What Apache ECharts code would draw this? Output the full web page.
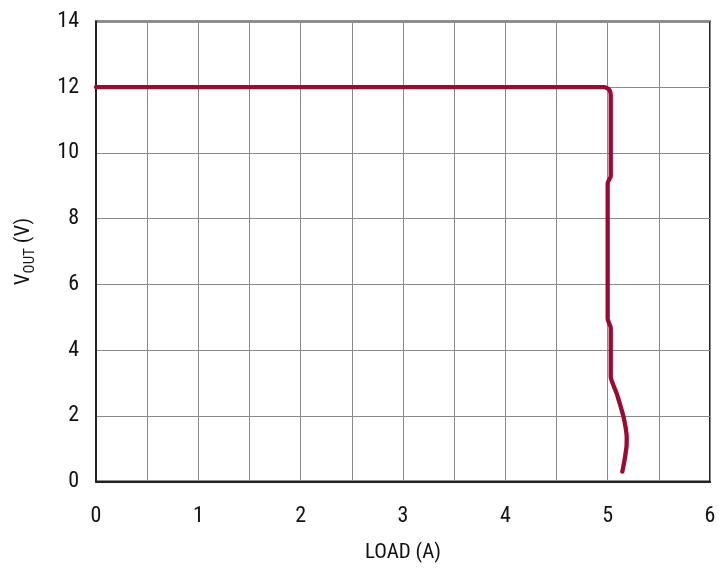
<!DOCTYPE html>
<html>
<head>
<meta charset="utf-8">
<script src="https://cdn.jsdelivr.net/npm/echarts@6/dist/echarts.min.js"></script>
<style>
html,body{margin:0;padding:0;background:#fff;}
#chart{width:719px;height:570px;}
</style>
</head>
<body>
<div id="chart"></div>
<script>
// Load (A) values along the curve
const loadA = [0, 4.96, 4.995, 5.02, 5.03, 5.03, 5.0, 5.0, 5.03, 5.03, 5.06, 5.088, 5.125, 5.153, 5.175, 5.186, 5.185, 5.176, 5.162, 5.143];
// Vout (V) values along the curve
const voutV = [12, 12, 11.97, 11.9, 11.75, 9.3, 9.08, 4.95, 4.67, 3.19, 2.9, 2.68, 2.3, 1.99, 1.65, 1.36, 1.1, 0.87, 0.6, 0.3];
const xTicks = [0, 1, 2, 3, 4, 5, 6];
const yTicks = [0, 2, 4, 6, 8, 10, 12, 14];

const FONT = "'Liberation Sans Narrow', 'Roboto Condensed', Roboto, sans-serif";
const chart = echarts.init(document.getElementById('chart'), null, {renderer: 'canvas'});
const data = loadA.map((x, i) => [x, voutV[i]]);

chart.setOption({
  animation: false,
  backgroundColor: '#ffffff',
  grid: {left: 96, top: 21.5, right: 9, bottom: 88.5, show: true, borderColor: '#222', borderWidth: 2, backgroundColor: 'transparent'},
  xAxis: {
    type: 'value', min: 0, max: 6, interval: 0.5,
    name: 'LOAD (A)', nameLocation: 'middle', nameGap: 61,
    nameTextStyle: {fontFamily: FONT, fontSize: 21, color: '#111'},
    axisLine: {show: true, lineStyle: {color: '#222', width: 2}},
    axisTick: {show: false},
    axisLabel: {
      margin: 24, fontFamily: FONT, fontSize: 22, color: '#111',
      formatter: v => xTicks.indexOf(v) >= 0 ? String(v) : ''
    },
    splitLine: {show: true, lineStyle: {color: '#8a8a8a', width: 1}}
  },
  yAxis: {
    type: 'value', min: 0, max: 14, interval: 2,
    name: '{v|V}{s|OUT}{v| (V)}', nameLocation: 'middle', nameGap: 62,
    nameTextStyle: {
      fontFamily: FONT, fontSize: 21, color: '#111',
      rich: {
        v: {fontFamily: FONT, fontSize: 21, color: '#111', lineHeight: 26, verticalAlign: 'bottom'},
        s: {fontFamily: FONT, fontSize: 15, color: '#111', lineHeight: 26, verticalAlign: 'bottom', padding: [0, 0, -4, 0]}
      }
    },
    axisLine: {show: true, lineStyle: {color: '#222', width: 2}},
    axisTick: {show: false},
    axisLabel: {
      margin: 17, fontFamily: FONT, fontSize: 22, color: '#111',
      formatter: v => yTicks.indexOf(v) >= 0 ? String(v) : ''
    },
    splitLine: {show: true, lineStyle: {color: '#8a8a8a', width: 1}}
  },
  series: [{
    type: 'line',
    data: data,
    showSymbol: false,
    smooth: 0.25,
    lineStyle: {color: '#9a0a32', width: 4.3, cap: 'round', join: 'round'},
    z: 5
  }]
});
</script>
</body>
</html>
